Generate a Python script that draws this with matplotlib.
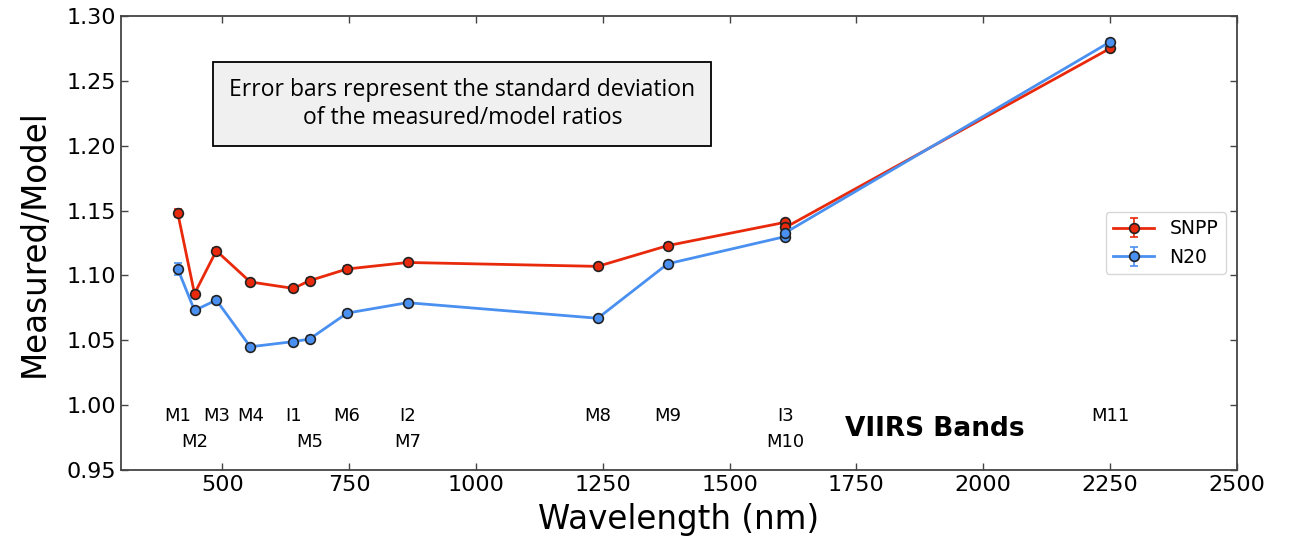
import matplotlib
matplotlib.use("Agg")
import matplotlib.pyplot as plt

bands = ["M1", "M2", "M3", "M4", "I1", "M5", "M6", "I2", "M8", "M9", "I3", "M10", "M11"]
wavelength = [412, 445, 488, 555, 640, 672, 746, 865, 1240, 1378, 1610, 1610, 2250]
snpp = [1.148, 1.086, 1.119, 1.095, 1.090, 1.096, 1.105, 1.110, 1.107, 1.123, 1.141, 1.137, 1.275]
snpp_std = [0.003, 0.002, 0.002, 0.002, 0.002, 0.002, 0.002, 0.002, 0.002, 0.002, 0.002, 0.002, 0.002]
n20 = [1.105, 1.073, 1.081, 1.045, 1.049, 1.051, 1.071, 1.079, 1.067, 1.109, 1.130, 1.133, 1.280]
n20_std = [0.0045, 0.002, 0.002, 0.002, 0.002, 0.002, 0.002, 0.002, 0.002, 0.002, 0.002, 0.002, 0.002]

label_row1 = ["M1", "M3", "M4", "I1", "M6", "I2", "M8", "M9", "I3", "M11"]
label_row1_x = [412, 488, 555, 640, 746, 865, 1240, 1378, 1610, 2250]
label_row2 = ["M2", "M5", "M7", "M10"]
label_row2_x = [445, 672, 865, 1610]

red = "#e8290b"
blue = "#4a90f0"

fig = plt.figure(figsize=(12.91, 5.43), dpi=100)
ax = fig.add_axes([0.0937, 0.1344, 0.8643, 0.8361])

ax.errorbar(wavelength, snpp, yerr=snpp_std, color=red, lw=2, marker="o", ms=7,
            mfc=red, mec="#222222", mew=1.2, capsize=3, elinewidth=1.2, label="SNPP", zorder=3)
ax.errorbar(wavelength, n20, yerr=n20_std, color=blue, lw=2, marker="o", ms=7,
            mfc=blue, mec="#222222", mew=1.2, capsize=3, elinewidth=1.2, label="N20", zorder=3)

ax.set_xlim(300, 2500)
ax.set_ylim(0.95, 1.30)
ax.set_xticks([500, 750, 1000, 1250, 1500, 1750, 2000, 2250, 2500])
ax.set_yticks([0.95, 1.00, 1.05, 1.10, 1.15, 1.20, 1.25, 1.30])
ax.set_yticklabels([f"{v:.2f}" for v in [0.95, 1.00, 1.05, 1.10, 1.15, 1.20, 1.25, 1.30]])
ax.tick_params(direction="in", top=True, right=True, labelsize=16, length=5, width=1, color="#444444")
for s in ax.spines.values():
    s.set_color("#444444")
    s.set_linewidth(1.3)

ax.set_xlabel("Wavelength (nm)", fontsize=23.5, labelpad=6)
ax.set_ylabel("Measured/Model", fontsize=23.5, labelpad=11)

for t, x in zip(label_row1, label_row1_x):
    ax.text(x, 0.9915, t, ha="center", va="center", fontsize=13)
for t, x in zip(label_row2, label_row2_x):
    ax.text(x, 0.9715, t, ha="center", va="center", fontsize=13)
ax.text(1905, 0.9815, "VIIRS Bands", ha="center", va="center", fontsize=19, fontweight="bold")

ax.text(973, 1.2323, "Error bars represent the standard deviation\nof the measured/model ratios",
        ha="center", va="center", fontsize=16.5, family="Open Sans", linespacing=1.25,
        bbox=dict(boxstyle="square,pad=0.7", fc="#f0f0f0", ec="black", lw=1.3))

ax.legend(loc="center right", fontsize=13.5, frameon=True, edgecolor="#cccccc",
          handlelength=2.2, borderaxespad=0.6)

fig.savefig("out.png", dpi=100)
